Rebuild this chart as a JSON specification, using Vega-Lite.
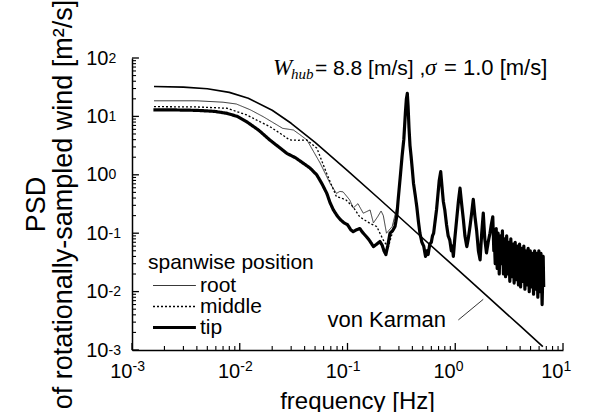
{
  "$schema": "https://vega.github.io/schema/vega-lite/v6.json",
  "width": 431,
  "height": 292,
  "autosize": {"type": "none"},
  "padding": {"left": 132, "top": 58, "right": 26, "bottom": 62},
  "background": "white",
  "config": {"view": {"stroke": null}, "font": "Liberation Sans"},
  "resolve": {"axis": {"x": "independent", "y": "independent"}},
  "datasets": {
    "vk": [
      {"series": "von Karman", "f": 0.0016, "psd": 32.6},
      {"series": "von Karman", "f": 0.003, "psd": 31.7},
      {"series": "von Karman", "f": 0.005, "psd": 29.7},
      {"series": "von Karman", "f": 0.008, "psd": 25.8},
      {"series": "von Karman", "f": 0.012, "psd": 20.5},
      {"series": "von Karman", "f": 0.02, "psd": 12.75},
      {"series": "von Karman", "f": 0.03, "psd": 7.63},
      {"series": "von Karman", "f": 0.05, "psd": 3.59},
      {"series": "von Karman", "f": 0.1, "psd": 1.18},
      {"series": "von Karman", "f": 0.2, "psd": 0.378},
      {"series": "von Karman", "f": 0.5, "psd": 0.082},
      {"series": "von Karman", "f": 1.0, "psd": 0.0259},
      {"series": "von Karman", "f": 2.0, "psd": 0.00818},
      {"series": "von Karman", "f": 4.0, "psd": 0.00258},
      {"series": "von Karman", "f": 6.5, "psd": 0.00114}
    ],
    "curves": [
      {"series": "root", "f": 0.0016, "psd": 18.5},
      {"series": "root", "f": 0.004, "psd": 18.5},
      {"series": "root", "f": 0.007, "psd": 17.5},
      {"series": "root", "f": 0.0093, "psd": 16.3},
      {"series": "root", "f": 0.0125, "psd": 13},
      {"series": "root", "f": 0.0165, "psd": 9.9},
      {"series": "root", "f": 0.02, "psd": 8},
      {"series": "root", "f": 0.025, "psd": 6.25},
      {"series": "root", "f": 0.0315, "psd": 5.85},
      {"series": "root", "f": 0.036, "psd": 4.9},
      {"series": "root", "f": 0.042, "psd": 3.95},
      {"series": "root", "f": 0.0556, "psd": 1.6},
      {"series": "root", "f": 0.069, "psd": 0.71},
      {"series": "root", "f": 0.079, "psd": 0.48},
      {"series": "root", "f": 0.085, "psd": 0.52},
      {"series": "root", "f": 0.091, "psd": 0.51},
      {"series": "root", "f": 0.105, "psd": 0.37},
      {"series": "root", "f": 0.113, "psd": 0.27},
      {"series": "root", "f": 0.125, "psd": 0.32},
      {"series": "root", "f": 0.14, "psd": 0.22},
      {"series": "root", "f": 0.162, "psd": 0.25},
      {"series": "root", "f": 0.174, "psd": 0.15},
      {"series": "root", "f": 0.19, "psd": 0.19},
      {"series": "root", "f": 0.205, "psd": 0.24},
      {"series": "root", "f": 0.215, "psd": 0.2},
      {"series": "root", "f": 0.23, "psd": 0.1},
      {"series": "root", "f": 0.26, "psd": 0.13},
      {"series": "root", "f": 0.29, "psd": 0.3},
      {"series": "middle", "f": 0.0016, "psd": 14.7},
      {"series": "middle", "f": 0.004, "psd": 14.5},
      {"series": "middle", "f": 0.0076, "psd": 13.8},
      {"series": "middle", "f": 0.0116, "psd": 10.6},
      {"series": "middle", "f": 0.015, "psd": 8.3},
      {"series": "middle", "f": 0.019, "psd": 6.7},
      {"series": "middle", "f": 0.025, "psd": 4.8},
      {"series": "middle", "f": 0.029, "psd": 3.95},
      {"series": "middle", "f": 0.035, "psd": 3.9},
      {"series": "middle", "f": 0.042, "psd": 3.95},
      {"series": "middle", "f": 0.052, "psd": 2.85},
      {"series": "middle", "f": 0.064, "psd": 1.06},
      {"series": "middle", "f": 0.079, "psd": 0.42},
      {"series": "middle", "f": 0.088, "psd": 0.4},
      {"series": "middle", "f": 0.097, "psd": 0.37},
      {"series": "middle", "f": 0.113, "psd": 0.28},
      {"series": "middle", "f": 0.13, "psd": 0.19},
      {"series": "middle", "f": 0.162, "psd": 0.147},
      {"series": "middle", "f": 0.187, "psd": 0.13},
      {"series": "middle", "f": 0.2, "psd": 0.1},
      {"series": "middle", "f": 0.22, "psd": 0.07},
      {"series": "middle", "f": 0.24, "psd": 0.059},
      {"series": "middle", "f": 0.26, "psd": 0.1},
      {"series": "middle", "f": 0.29, "psd": 0.25},
      {"series": "tip", "f": 0.00158, "psd": 12.9},
      {"series": "tip", "f": 0.0025, "psd": 12.9},
      {"series": "tip", "f": 0.004, "psd": 12.7},
      {"series": "tip", "f": 0.0058, "psd": 12.2},
      {"series": "tip", "f": 0.0076, "psd": 11.3},
      {"series": "tip", "f": 0.0095, "psd": 10.0},
      {"series": "tip", "f": 0.0116, "psd": 8.1},
      {"series": "tip", "f": 0.015, "psd": 5.8},
      {"series": "tip", "f": 0.019, "psd": 3.95},
      {"series": "tip", "f": 0.023, "psd": 3.0},
      {"series": "tip", "f": 0.0273, "psd": 2.33},
      {"series": "tip", "f": 0.033, "psd": 1.95},
      {"series": "tip", "f": 0.039, "psd": 1.57},
      {"series": "tip", "f": 0.045, "psd": 1.3},
      {"series": "tip", "f": 0.0518, "psd": 1.0},
      {"series": "tip", "f": 0.058, "psd": 0.7},
      {"series": "tip", "f": 0.0643, "psd": 0.48},
      {"series": "tip", "f": 0.069, "psd": 0.33},
      {"series": "tip", "f": 0.074, "psd": 0.25},
      {"series": "tip", "f": 0.08, "psd": 0.2},
      {"series": "tip", "f": 0.086, "psd": 0.17},
      {"series": "tip", "f": 0.093, "psd": 0.15},
      {"series": "tip", "f": 0.1, "psd": 0.14},
      {"series": "tip", "f": 0.107, "psd": 0.115},
      {"series": "tip", "f": 0.113, "psd": 0.106},
      {"series": "tip", "f": 0.122, "psd": 0.115},
      {"series": "tip", "f": 0.13, "psd": 0.12},
      {"series": "tip", "f": 0.14, "psd": 0.1},
      {"series": "tip", "f": 0.15, "psd": 0.087},
      {"series": "tip", "f": 0.16, "psd": 0.075},
      {"series": "tip", "f": 0.174, "psd": 0.059},
      {"series": "tip", "f": 0.187, "psd": 0.065},
      {"series": "tip", "f": 0.2, "psd": 0.072},
      {"series": "tip", "f": 0.21, "psd": 0.062},
      {"series": "tip", "f": 0.218, "psd": 0.05},
      {"series": "tip", "f": 0.227, "psd": 0.043},
      {"series": "tip", "f": 0.236, "psd": 0.06},
      {"series": "tip", "f": 0.248, "psd": 0.1},
      {"series": "tip", "f": 0.262, "psd": 0.11},
      {"series": "tip", "f": 0.276, "psd": 0.13},
      {"series": "tip", "f": 0.287, "psd": 0.2},
      {"series": "tip", "f": 0.295, "psd": 0.37},
      {"series": "tip", "f": 0.31, "psd": 1.0},
      {"series": "tip", "f": 0.322, "psd": 2.2},
      {"series": "tip", "f": 0.333, "psd": 4.0},
      {"series": "tip", "f": 0.345, "psd": 12},
      {"series": "tip", "f": 0.352, "psd": 20},
      {"series": "tip", "f": 0.359, "psd": 24.8},
      {"series": "tip", "f": 0.365, "psd": 15},
      {"series": "tip", "f": 0.372, "psd": 6.5},
      {"series": "tip", "f": 0.38, "psd": 3.2},
      {"series": "tip", "f": 0.39, "psd": 2.0},
      {"series": "tip", "f": 0.4, "psd": 1.2},
      {"series": "tip", "f": 0.41, "psd": 0.71},
      {"series": "tip", "f": 0.425, "psd": 0.45},
      {"series": "tip", "f": 0.44, "psd": 0.28},
      {"series": "tip", "f": 0.455, "psd": 0.16},
      {"series": "tip", "f": 0.47, "psd": 0.1},
      {"series": "tip", "f": 0.49, "psd": 0.07},
      {"series": "tip", "f": 0.51, "psd": 0.06},
      {"series": "tip", "f": 0.53, "psd": 0.04},
      {"series": "tip", "f": 0.545, "psd": 0.05},
      {"series": "tip", "f": 0.56, "psd": 0.043},
      {"series": "tip", "f": 0.58, "psd": 0.065},
      {"series": "tip", "f": 0.6, "psd": 0.07},
      {"series": "tip", "f": 0.615, "psd": 0.09},
      {"series": "tip", "f": 0.63, "psd": 0.1},
      {"series": "tip", "f": 0.65, "psd": 0.16},
      {"series": "tip", "f": 0.67, "psd": 0.25},
      {"series": "tip", "f": 0.69, "psd": 0.45},
      {"series": "tip", "f": 0.71, "psd": 0.8},
      {"series": "tip", "f": 0.733, "psd": 1.13},
      {"series": "tip", "f": 0.755, "psd": 0.6},
      {"series": "tip", "f": 0.775, "psd": 0.35},
      {"series": "tip", "f": 0.8, "psd": 0.25},
      {"series": "tip", "f": 0.83, "psd": 0.14},
      {"series": "tip", "f": 0.86, "psd": 0.09},
      {"series": "tip", "f": 0.89, "psd": 0.076},
      {"series": "tip", "f": 0.92, "psd": 0.05},
      {"series": "tip", "f": 0.94, "psd": 0.06},
      {"series": "tip", "f": 0.96, "psd": 0.04},
      {"series": "tip", "f": 0.99, "psd": 0.08},
      {"series": "tip", "f": 1.03, "psd": 0.17},
      {"series": "tip", "f": 1.07, "psd": 0.35},
      {"series": "tip", "f": 1.107, "psd": 0.59},
      {"series": "tip", "f": 1.15, "psd": 0.3},
      {"series": "tip", "f": 1.19, "psd": 0.17},
      {"series": "tip", "f": 1.23, "psd": 0.09},
      {"series": "tip", "f": 1.28, "psd": 0.059},
      {"series": "tip", "f": 1.32, "psd": 0.08},
      {"series": "tip", "f": 1.37, "psd": 0.13},
      {"series": "tip", "f": 1.42, "psd": 0.22},
      {"series": "tip", "f": 1.47, "psd": 0.38},
      {"series": "tip", "f": 1.52, "psd": 0.2},
      {"series": "tip", "f": 1.58, "psd": 0.11},
      {"series": "tip", "f": 1.64, "psd": 0.05},
      {"series": "tip", "f": 1.7, "psd": 0.035},
      {"series": "tip", "f": 1.76, "psd": 0.1},
      {"series": "tip", "f": 1.82, "psd": 0.22},
      {"series": "tip", "f": 1.88, "psd": 0.08},
      {"series": "tip", "f": 1.95, "psd": 0.046},
      {"series": "tip", "f": 2.02, "psd": 0.07},
      {"series": "tip", "f": 2.1, "psd": 0.1},
      {"series": "tip", "f": 2.16, "psd": 0.14},
      {"series": "tip", "f": 2.23, "psd": 0.19},
      {"series": "tip", "f": 2.28, "psd": 0.05},
      {"series": "tip", "f": 2.3, "psd": 0.09},
      {"series": "tip", "f": 2.35, "psd": 0.03},
      {"series": "tip", "f": 2.4, "psd": 0.12},
      {"series": "tip", "f": 2.45, "psd": 0.025},
      {"series": "tip", "f": 2.5, "psd": 0.1},
      {"series": "tip", "f": 2.56, "psd": 0.02},
      {"series": "tip", "f": 2.62, "psd": 0.09},
      {"series": "tip", "f": 2.68, "psd": 0.03},
      {"series": "tip", "f": 2.74, "psd": 0.11},
      {"series": "tip", "f": 2.8, "psd": 0.02},
      {"series": "tip", "f": 2.86, "psd": 0.08},
      {"series": "tip", "f": 2.93, "psd": 0.018},
      {"series": "tip", "f": 3.0, "psd": 0.09},
      {"series": "tip", "f": 3.07, "psd": 0.02},
      {"series": "tip", "f": 3.14, "psd": 0.07},
      {"series": "tip", "f": 3.21, "psd": 0.015},
      {"series": "tip", "f": 3.28, "psd": 0.08},
      {"series": "tip", "f": 3.36, "psd": 0.018},
      {"series": "tip", "f": 3.44, "psd": 0.065},
      {"series": "tip", "f": 3.52, "psd": 0.014},
      {"series": "tip", "f": 3.6, "psd": 0.07},
      {"series": "tip", "f": 3.68, "psd": 0.016},
      {"series": "tip", "f": 3.77, "psd": 0.06},
      {"series": "tip", "f": 3.86, "psd": 0.013},
      {"series": "tip", "f": 3.95, "psd": 0.065},
      {"series": "tip", "f": 4.04, "psd": 0.012},
      {"series": "tip", "f": 4.13, "psd": 0.055},
      {"series": "tip", "f": 4.23, "psd": 0.015},
      {"series": "tip", "f": 4.33, "psd": 0.06},
      {"series": "tip", "f": 4.43, "psd": 0.011},
      {"series": "tip", "f": 4.53, "psd": 0.05},
      {"series": "tip", "f": 4.64, "psd": 0.013},
      {"series": "tip", "f": 4.75, "psd": 0.055},
      {"series": "tip", "f": 4.86, "psd": 0.01},
      {"series": "tip", "f": 4.97, "psd": 0.05},
      {"series": "tip", "f": 5.09, "psd": 0.012},
      {"series": "tip", "f": 5.21, "psd": 0.045},
      {"series": "tip", "f": 5.33, "psd": 0.009},
      {"series": "tip", "f": 5.45, "psd": 0.05},
      {"series": "tip", "f": 5.58, "psd": 0.011},
      {"series": "tip", "f": 5.71, "psd": 0.045},
      {"series": "tip", "f": 5.84, "psd": 0.008},
      {"series": "tip", "f": 5.97, "psd": 0.05},
      {"series": "tip", "f": 6.11, "psd": 0.01},
      {"series": "tip", "f": 6.25, "psd": 0.045},
      {"series": "tip", "f": 6.4, "psd": 0.006},
      {"series": "tip", "f": 6.55, "psd": 0.04},
      {"series": "tip", "f": 6.62, "psd": 0.012}
    ],
    "leader": [
      {"f": 1.068, "psd": 0.00327},
      {"f": 1.82, "psd": 0.00738}
    ],
    "titleAnchor": [{"f": 0.02035, "psd": 51.2}],
    "vkLabel": [{"f": 0.821, "psd": 0.00251, "label": "von Karman"}],
    "xMajor": [{"v": 0.001}, {"v": 0.01}, {"v": 0.1}, {"v": 1}, {"v": 10}],
    "xMinor": [{"v": 0.002}, {"v": 0.003}, {"v": 0.004}, {"v": 0.005}, {"v": 0.006}, {"v": 0.007}, {"v": 0.008}, {"v": 0.009}, {"v": 0.02}, {"v": 0.03}, {"v": 0.04}, {"v": 0.05}, {"v": 0.06}, {"v": 0.07}, {"v": 0.08}, {"v": 0.09}, {"v": 0.2}, {"v": 0.3}, {"v": 0.4}, {"v": 0.5}, {"v": 0.6}, {"v": 0.7}, {"v": 0.8}, {"v": 0.9}, {"v": 2}, {"v": 3}, {"v": 4}, {"v": 5}, {"v": 6}, {"v": 7}, {"v": 8}, {"v": 9}],
    "yMajor": [{"v": 0.001}, {"v": 0.01}, {"v": 0.1}, {"v": 1}, {"v": 10}, {"v": 100}],
    "yMinor": [{"v": 0.002}, {"v": 0.003}, {"v": 0.004}, {"v": 0.005}, {"v": 0.006}, {"v": 0.007}, {"v": 0.008}, {"v": 0.009}, {"v": 0.02}, {"v": 0.03}, {"v": 0.04}, {"v": 0.05}, {"v": 0.06}, {"v": 0.07}, {"v": 0.08}, {"v": 0.09}, {"v": 0.2}, {"v": 0.3}, {"v": 0.4}, {"v": 0.5}, {"v": 0.6}, {"v": 0.7}, {"v": 0.8}, {"v": 0.9}, {"v": 2}, {"v": 3}, {"v": 4}, {"v": 5}, {"v": 6}, {"v": 7}, {"v": 8}, {"v": 9}, {"v": 20}, {"v": 30}, {"v": 40}, {"v": 50}, {"v": 60}, {"v": 70}, {"v": 80}, {"v": 90}]
  },
  "layer": [
    {
      "data": {"name": "vk"},
      "mark": {"type": "line", "clip": true, "strokeJoin": "round", "color": "black", "strokeWidth": 1.6},
      "encoding": {
        "x": {
          "field": "f", "type": "quantitative",
          "scale": {"type": "log", "domain": [0.001, 10], "nice": false},
          "axis": {
            "orient": "bottom",
            "title": "frequency [Hz]",
            "values": [0.001, 0.01, 0.1, 1, 10],
            "labelExpr": "'10'",
            "ticks": false, "tickSize": 0,
            "domainColor": "black", "domainWidth": 1.5,
            "labelFontSize": 20, "labelColor": "black", "labelPadding": 21,
            "labelAlign": "right", "labelBaseline": "middle", "labelDx": 5,
            "labelFlush": false, "labelOverlap": false,
            "grid": false,
            "titleFontSize": 24, "titleFontWeight": "normal", "titleColor": "black",
            "titleX": 225, "titleY": 51, "titleBaseline": "middle", "titleAlign": "center"
          }
        },
        "y": {
          "field": "psd", "type": "quantitative",
          "scale": {"type": "log", "domain": [0.001, 100], "nice": false},
          "axis": {
            "orient": "left",
            "title": ["PSD", "of rotationally-sampled wind [m²/s]"],
            "values": [0.001, 0.01, 0.1, 1, 10, 100],
            "labelExpr": "'10'",
            "ticks": false, "tickSize": 0,
            "domainColor": "black", "domainWidth": 1.5,
            "labelFontSize": 20, "labelColor": "black", "labelPadding": 24,
            "labelAlign": "right", "labelBaseline": "middle",
            "labelFlush": false, "labelOverlap": false,
            "grid": false,
            "titleFontSize": 27, "titleFontWeight": "normal", "titleColor": "black",
            "titleX": -96, "titleY": 146, "titleBaseline": "middle", "titleAlign": "center", "titleAngle": -90, "titleLineHeight": 27
          }
        }
      }
    },
    {
      "data": {"name": "curves"},
      "mark": {"type": "line", "clip": true, "strokeJoin": "round"},
      "encoding": {
        "x": {"field": "f", "type": "quantitative", "axis": null},
        "y": {"field": "psd", "type": "quantitative", "axis": null},
        "color": {
          "field": "series", "type": "nominal",
          "scale": {"type": "ordinal", "domain": ["root", "middle", "tip"], "range": ["#222222", "black", "black"]},
          "legend": {
            "orient": "none", "legendX": 16, "legendY": 194,
            "title": "spanwise position", "titleFontSize": 21, "titleFontWeight": "normal", "titleColor": "black", "titlePadding": 2,
            "labelFontSize": 21, "labelColor": "black", "labelOffset": 31,
            "symbolType": "M-1,0H6.8", "symbolSize": 121, "rowPadding": -1, "padding": 0
          }
        },
        "strokeDash": {
          "field": "series", "type": "nominal",
          "scale": {"type": "ordinal", "domain": ["root", "middle", "tip"], "range": [[1, 0], [2, 2], [1, 0]]},
          "legend": {
            "orient": "none", "legendX": 16, "legendY": 194,
            "title": "spanwise position", "titleFontSize": 21, "titleFontWeight": "normal", "titleColor": "black", "titlePadding": 2,
            "labelFontSize": 21, "labelColor": "black", "labelOffset": 31,
            "symbolType": "M-1,0H6.8", "symbolSize": 121, "rowPadding": -1, "padding": 0
          }
        },
        "strokeWidth": {
          "field": "series", "type": "nominal",
          "scale": {"type": "ordinal", "domain": ["root", "middle", "tip"], "range": [0.9, 1.3, 3.2]},
          "legend": {
            "orient": "none", "legendX": 16, "legendY": 194,
            "title": "spanwise position", "titleFontSize": 21, "titleFontWeight": "normal", "titleColor": "black", "titlePadding": 2,
            "labelFontSize": 21, "labelColor": "black", "labelOffset": 31,
            "symbolType": "M-1,0H6.8", "symbolSize": 121, "rowPadding": -1, "padding": 0
          }
        }
      }
    },
    {
      "data": {"name": "leader"},
      "mark": {"type": "line", "color": "black", "strokeWidth": 0.8},
      "encoding": {
        "x": {"field": "f", "type": "quantitative", "axis": null},
        "y": {"field": "psd", "type": "quantitative", "axis": null}
      }
    },
    {
      "data": {"name": "xMajor"},
      "mark": {"type": "rule", "color": "black", "strokeWidth": 1.3},
      "encoding": {
        "x": {"field": "v", "type": "quantitative", "axis": null},
        "y": {"datum": 0.001, "type": "quantitative", "axis": null},
        "y2": {"datum": 0.00132}
      }
    },
    {
      "data": {"name": "xMinor"},
      "mark": {"type": "rule", "color": "black", "strokeWidth": 1.1},
      "encoding": {
        "x": {"field": "v", "type": "quantitative", "axis": null},
        "y": {"datum": 0.001, "type": "quantitative", "axis": null},
        "y2": {"datum": 0.00117}
      }
    },
    {
      "data": {"name": "yMajor"},
      "mark": {"type": "rule", "color": "black", "strokeWidth": 1.3},
      "encoding": {
        "y": {"field": "v", "type": "quantitative", "axis": null},
        "x": {"datum": 0.001, "type": "quantitative", "axis": null},
        "x2": {"datum": 0.00116}
      }
    },
    {
      "data": {"name": "yMinor"},
      "mark": {"type": "rule", "color": "black", "strokeWidth": 1.1},
      "encoding": {
        "y": {"field": "v", "type": "quantitative", "axis": null},
        "x": {"datum": 0.001, "type": "quantitative", "axis": null},
        "x2": {"datum": 0.00109}
      }
    },
    {
      "data": {"name": "titleAnchor"},
      "mark": {"type": "text", "text": "W", "font": "Liberation Serif", "fontStyle": "italic", "fontSize": 23, "align": "left", "baseline": "alphabetic", "color": "black"},
      "encoding": {
        "x": {
          "field": "f", "type": "quantitative",
          "axis": {
            "orient": "bottom", "title": null, "domain": false, "ticks": false, "tickSize": 0, "grid": false,
            "values": [0.001, 0.01, 0.1, 1, 10],
            "labelExpr": "'' + round(log(datum.value)/LN10)",
            "labelFontSize": 14, "labelColor": "black", "labelPadding": 16,
            "labelAlign": "left", "labelBaseline": "middle", "labelDx": 5,
            "labelFlush": false, "labelOverlap": false
          }
        },
        "y": {
          "field": "psd", "type": "quantitative",
          "axis": {
            "orient": "left", "title": null, "domain": false, "ticks": false, "tickSize": 0, "grid": false,
            "values": [0.001, 0.01, 0.1, 1, 10, 100],
            "labelExpr": "'' + round(log(datum.value)/LN10)",
            "labelFontSize": 14, "labelColor": "black", "labelPadding": 24,
            "labelAlign": "left", "labelBaseline": "middle", "labelDy": -6,
            "labelFlush": false, "labelOverlap": false
          }
        }
      }
    },
    {
      "data": {"name": "titleAnchor"},
      "mark": {"type": "text", "text": "hub", "font": "Liberation Serif", "fontStyle": "italic", "fontSize": 15, "align": "left", "baseline": "alphabetic", "dx": 18, "dy": 4, "color": "black"},
      "encoding": {
        "x": {"field": "f", "type": "quantitative", "axis": null},
        "y": {"field": "psd", "type": "quantitative", "axis": null}
      }
    },
    {
      "data": {"name": "titleAnchor"},
      "mark": {"type": "text", "text": "= 8.8 [m/s] ,", "fontSize": 21, "align": "left", "baseline": "alphabetic", "dx": 42, "color": "black"},
      "encoding": {
        "x": {"field": "f", "type": "quantitative", "axis": null},
        "y": {"field": "psd", "type": "quantitative", "axis": null}
      }
    },
    {
      "data": {"name": "titleAnchor"},
      "mark": {"type": "text", "text": "σ", "font": "Liberation Serif", "fontStyle": "italic", "fontSize": 23, "align": "left", "baseline": "alphabetic", "dx": 152, "color": "black"},
      "encoding": {
        "x": {"field": "f", "type": "quantitative", "axis": null},
        "y": {"field": "psd", "type": "quantitative", "axis": null}
      }
    },
    {
      "data": {"name": "titleAnchor"},
      "mark": {"type": "text", "text": "= 1.0 [m/s]", "fontSize": 22, "align": "left", "baseline": "alphabetic", "dx": 171, "color": "black"},
      "encoding": {
        "x": {"field": "f", "type": "quantitative", "axis": null},
        "y": {"field": "psd", "type": "quantitative", "axis": null}
      }
    },
    {
      "data": {"name": "vkLabel"},
      "mark": {"type": "text", "fontSize": 22, "align": "right", "baseline": "alphabetic", "color": "black"},
      "encoding": {
        "x": {"field": "f", "type": "quantitative", "axis": null},
        "y": {"field": "psd", "type": "quantitative", "axis": null},
        "text": {"field": "label"}
      }
    }
  ]
}
